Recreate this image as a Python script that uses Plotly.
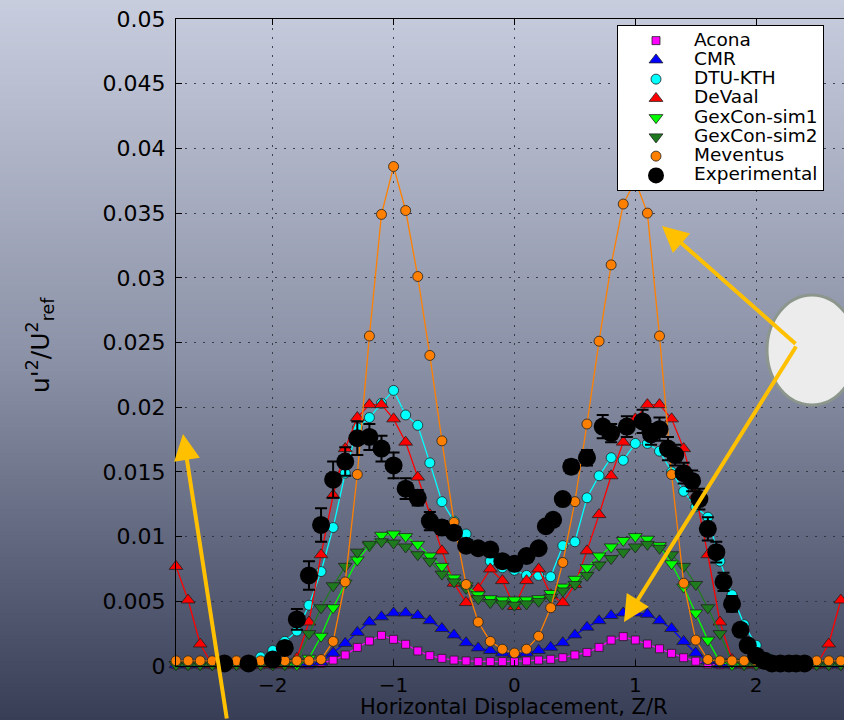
import base64, struct, zlib
import plotly.graph_objects as go

# ---------------- data ----------------
Z = [-2.8, -2.7, -2.6, -2.5, -2.4, -2.3, -2.2, -2.1, -2.0, -1.9, -1.8, -1.7, -1.6, -1.5,
     -1.4, -1.3, -1.2, -1.1, -1.0, -0.9, -0.8, -0.7, -0.6, -0.5, -0.4, -0.3, -0.2, -0.1,
     0.0, 0.1, 0.2, 0.3, 0.4, 0.5, 0.6, 0.7, 0.8, 0.9, 1.0, 1.1, 1.2, 1.3, 1.4, 1.5,
     1.6, 1.7, 1.8, 1.9, 2.0, 2.1, 2.2, 2.3, 2.4, 2.5, 2.6, 2.7]

acona = [0.0001]*12 + [0.0002, 0.00046, 0.00085, 0.00144, 0.00193, 0.00237, 0.00206, 0.00168,
         0.00116, 0.0008, 0.00059, 0.00046, 0.00039, 0.00034, 0.00034, 0.00034, 0.00034,
         0.00039, 0.00046, 0.00052, 0.00064, 0.00085, 0.00105, 0.00144, 0.002, 0.00227,
         0.00201, 0.0017, 0.00133, 0.00098, 0.00064, 0.00037, 0.00016] + [0.0001]*11

cmr = [0.0001]*12 + [0.0003, 0.001, 0.00175, 0.0026, 0.0034, 0.0038, 0.0041, 0.0041, 0.0039,
       0.0035, 0.0029, 0.0024, 0.0018, 0.0014, 0.0012, 0.001, 0.0009, 0.001, 0.0012, 0.00145,
       0.0018, 0.0024, 0.003, 0.0035, 0.0039, 0.0041, 0.0041, 0.004, 0.0035, 0.0029, 0.0019,
       0.001, 0.0004] + [0.0001]*11

dtu = [0.0002]*7 + [0.0007, 0.0012, 0.0019, 0.0027, 0.0047, 0.0073, 0.0107, 0.0149, 0.0184,
      0.0192, 0.0203, 0.0213, 0.0194, 0.0186, 0.0157, 0.0127, 0.0112, 0.0102, 0.0092, 0.0081,
      0.0076, 0.0074, 0.0070, 0.0070, 0.0069, 0.0093, 0.0096, 0.0130, 0.0147, 0.0161, 0.0159,
      0.0172, 0.0172, 0.0166, 0.0150, 0.0135, 0.0123, 0.0115, 0.0081, 0.0055, 0.0032, 0.0016,
      0.0006] + [0.0002]*6

devaal = [0.0077, 0.0051, 0.0017] + [0.0001]*7 + [0.0006, 0.0034, 0.0086, 0.0132, 0.0168, 0.0192,
          0.0202, 0.0202, 0.0191, 0.0173, 0.0146, 0.0117, 0.0089, 0.0064, 0.0049, 0.0060,
          0.0075, 0.0066, 0.0046, 0.0066, 0.0075, 0.0055, 0.0049, 0.0063, 0.0089, 0.0117,
          0.0147, 0.0173, 0.0191, 0.0202, 0.0202, 0.0191, 0.0168, 0.0132, 0.0086, 0.0034,
          0.0005] + [0.0001]*7 + [0.0017, 0.0051]

gex1 = [0.0001]*11 + [0.0006, 0.0023, 0.0045, 0.0064, 0.0082, 0.0093, 0.0101, 0.0102, 0.0100,
        0.0094, 0.0085, 0.0077, 0.0068, 0.0062, 0.0055, 0.0052, 0.0051, 0.0051, 0.0051, 0.0052,
        0.0056, 0.0061, 0.0067, 0.0076, 0.0085, 0.0092, 0.0097, 0.0100, 0.0098, 0.0093, 0.0079,
        0.0061, 0.0041, 0.0020, 0.0003] + [0.0001]*10

gex2 = [0.0001]*10 + [0.0003, 0.0025, 0.0045, 0.0062, 0.0077, 0.0088, 0.0094, 0.0096, 0.0095,
        0.0092, 0.0086, 0.0081, 0.0071, 0.0065, 0.0060, 0.0052, 0.0049, 0.0048, 0.0047, 0.0048,
        0.0050, 0.0053, 0.0058, 0.0063, 0.0070, 0.0078, 0.0083, 0.0088, 0.0092, 0.0094, 0.0091,
        0.0086, 0.0077, 0.0063, 0.0045, 0.0025, 0.0003] + [0.0001]*9

meventus = [0.0004]*12 + [0.0005, 0.0019, 0.0065, 0.0148, 0.0255, 0.0349, 0.0386, 0.0352,
            0.0301, 0.0240, 0.0174, 0.0111, 0.0063, 0.0034, 0.0019, 0.0013, 0.0010, 0.0013,
            0.0023, 0.0045, 0.0080, 0.0127, 0.0187, 0.0251, 0.0310, 0.0357, 0.0375, 0.0350,
            0.0255, 0.0148, 0.0064, 0.0020, 0.0005] + [0.0004]*11

exp_z = [-2.4, -2.2, -2.0, -1.9, -1.8, -1.7, -1.6, -1.5, -1.4, -1.3, -1.2, -1.1, -1.0, -0.9,
         -0.8, -0.7, -0.6, -0.5, -0.4, -0.3, -0.2, -0.1, 0.0, 0.1, 0.2, 0.26, 0.32, 0.4, 0.47,
         0.6, 0.73, 0.8, 0.93, 1.06, 1.13, 1.2, 1.27, 1.33, 1.4, 1.47, 1.53, 1.6, 1.67, 1.73,
         1.8, 1.87, 1.93, 2.0, 2.07, 2.13, 2.2, 2.27, 2.33, 2.4]
exp_val = [0.0002, 0.0002, 0.0005, 0.0014, 0.0036, 0.0070, 0.0109, 0.0144, 0.0158, 0.0176,
           0.0177, 0.0168, 0.0155, 0.0137, 0.0130, 0.0112, 0.0107, 0.0103, 0.0093, 0.0091,
           0.0090, 0.0081, 0.0079, 0.0085, 0.0091, 0.0108, 0.0113, 0.0129, 0.0154, 0.0161,
           0.0185, 0.0180, 0.0185, 0.0189, 0.0179, 0.0183, 0.0168, 0.0163, 0.0149, 0.0143,
           0.0129, 0.0106, 0.0088, 0.0065, 0.0048, 0.0028, 0.0016, 0.0008, 0.0004, 0.0002,
           0.0002, 0.0002, 0.0002, 0.0002]
exp_err = [0.0, 0.0, 0.0001, 0.0003, 0.0008, 0.0011, 0.0013, 0.0014, 0.0011, 0.0013, 0.0010,
           0.0010, 0.0010, 0.0008, 0.0006, 0.0007, 0.0005, 0.0004, 0.0004, 0.0003, 0.0003,
           0.0003, 0.0003, 0.0003, 0.0003, 0.0003, 0.0003, 0.0004, 0.0005, 0.0006, 0.0009,
           0.0007, 0.0008, 0.0009, 0.0008, 0.0009, 0.0009, 0.0008, 0.0008, 0.0008, 0.0008,
           0.0009, 0.0008, 0.0007, 0.0006, 0.0004, 0.0003, 0.0002, 0.0001, 0.0, 0.0, 0.0,
           0.0, 0.0]

y_ticks = [0, 0.005, 0.01, 0.015, 0.02, 0.025, 0.03, 0.035, 0.04, 0.045, 0.05]
y_ticktext = ["0", "0.005", "0.01", "0.015", "0.02", "0.025", "0.03", "0.035", "0.04", "0.045", "0.05"]
x_ticks = [-2, -1, 0, 1, 2]
x_ticktext = ["\u22122", "\u22121", "0", "1", "2"]

# ---------------- background gradient (style) ----------------
def gradient_png(h, stops, w=2):
    def col(t):
        for (t0, c0), (t1, c1) in zip(stops[:-1], stops[1:]):
            if t0 <= t <= t1:
                f = (t - t0) / (t1 - t0)
                return bytes(int(round(a + (b - a) * f)) for a, b in zip(c0, c1))
        return bytes(stops[-1][1])
    raw = b"".join(b"\x00" + col(i / (h - 1)) * w for i in range(h))
    def chunk(tag, data):
        c = struct.pack(">I", len(data)) + tag + data
        return c + struct.pack(">I", zlib.crc32(tag + data) & 0xffffffff)
    png = b"\x89PNG\r\n\x1a\n" + chunk(b"IHDR", struct.pack(">IIBBBBB", w, h, 8, 2, 0, 0, 0)) \
        + chunk(b"IDAT", zlib.compress(raw, 9)) + chunk(b"IEND", b"")
    return "data:image/png;base64," + base64.b64encode(png).decode()

bg = gradient_png(720, [(0.0, (200, 205, 222)), (0.5, (139, 145, 166)), (1.0, (56, 62, 86))])

W, H = 844, 720
L, R, T, B = 176, 0, 19, 54
PW, PH = W - L - R, H - T - B

def px(xp):
    return (xp - L) / PW

def py(yp):
    return (H - B - yp) / PH

FONT = "DejaVu Sans"
LEG_TXT = '<span style="font-size:18.5px">%s</span>'

fig = go.Figure()

series = [
    ("Acona", acona, "square", "#ff00ff", 8),
    ("CMR", cmr, "triangle-up", "#0000ff", 12),
    ("DTU-KTH", dtu, "circle", "#00ffff", 10),
    ("DeVaal", devaal, "triangle-up", "#ff0000", 12),
    ("GexCon-sim1", gex1, "triangle-down", "#00ff00", 12),
    ("GexCon-sim2", gex2, "triangle-down", "#1f7a1f", 12),
    ("Meventus", meventus, "circle", "#ff8000", 10),
]

for name, vals, sym, colr, size in series:
    fig.add_trace(go.Scatter(
        x=Z, y=vals, mode="lines+markers", name=name, showlegend=False,
        line=dict(color=colr, width=1.3),
        marker=dict(symbol=sym, size=size, color=colr, line=dict(color="#202020", width=0.8)),
        cliponaxis=False))

fig.add_trace(go.Scatter(
    x=exp_z, y=exp_val, mode="markers", name="Experimental", showlegend=False,
    marker=dict(symbol="circle", size=18, color="black"),
    error_y=dict(type="data", array=exp_err, color="black", thickness=2, width=6),
    cliponaxis=False))

# legend entries (markers only, as in the reference)
for name, vals, sym, colr, size in series:
    fig.add_trace(go.Scatter(x=[None], y=[None], mode="markers", name=LEG_TXT % name,
                             marker=dict(symbol=sym, size=size, color=colr,
                                         line=dict(color="#202020", width=0.8))))
fig.add_trace(go.Scatter(x=[None], y=[None], mode="markers", name=LEG_TXT % "Experimental",
                         marker=dict(symbol="circle", size=16, color="black")))

axis_common = dict(showline=True, linecolor="black", linewidth=1, ticks="inside", ticklen=6,
                   tickcolor="black", showgrid=True, gridcolor="rgba(45,45,55,0.85)",
                   gridwidth=1, griddash="2px,7px", zeroline=False)

fig.update_layout(
    width=W, height=H,
    margin=dict(l=L, r=R, t=T, b=B, pad=0),
    paper_bgcolor="rgb(139,145,166)",
    plot_bgcolor="rgba(0,0,0,0)",
    font=dict(family=FONT, color="black"),
    xaxis=dict(range=[-2.8, 2.7264], tickvals=x_ticks, ticktext=x_ticktext, mirror="ticks",
               ticklabelstandoff=1, tickfont=dict(family=FONT, size=20, color="black"),
               **axis_common),
    yaxis=dict(range=[0, 0.05], tickvals=y_ticks, ticktext=y_ticktext,
               ticklabelstandoff=5, tickfont=dict(family=FONT, size=22, color="black"),
               **axis_common),
    legend=dict(x=px(617), y=py(25), xanchor="left", yanchor="top", bgcolor="white",
                bordercolor="black", borderwidth=1, font=dict(family=FONT, size=12.5, color="black"),
                itemwidth=66, tracegroupgap=0),
    images=[dict(source=bg, xref="paper", yref="paper", x=-L / PW, y=1 + T / PH,
                 sizex=W / PW, sizey=H / PH, sizing="stretch", layer="below",
                 xanchor="left", yanchor="top")],
    shapes=[dict(type="circle", xref="paper", yref="paper", x0=px(767), x1=px(857),
                 y0=py(405), y1=py(295), fillcolor="rgb(236,236,236)",
                 line=dict(color="rgb(140,150,140)", width=3), layer="above")],
    annotations=[
        dict(text="Horizontal Displacement, Z/R", xref="paper", yref="paper", x=px(514),
             y=py(706.5), showarrow=False, font=dict(family=FONT, size=21, color="black"),
             xanchor="center", yanchor="middle"),
        dict(text="u'<sup>2</sup>/U<sup>2</sup><sub>ref</sub>", xref="paper", yref="paper",
             x=px(40), y=py(345), showarrow=False, textangle=-90,
             font=dict(family=FONT, size=25, color="black"), xanchor="center", yanchor="middle"),
        dict(text="", xref="paper", yref="paper", x=px(183), y=py(434), ax=44, ay=286,
             showarrow=True, arrowhead=2, arrowsize=1.3, arrowwidth=4, arrowcolor="#FFC000"),
        dict(text="", xref="paper", yref="paper", x=px(662), y=py(226), ax=135, ay=119,
             showarrow=True, arrowhead=2, arrowsize=1.3, arrowwidth=4, arrowcolor="#FFC000"),
        dict(text="", xref="paper", yref="paper", x=px(624), y=py(622), ax=173, ay=-277,
             showarrow=True, arrowhead=2, arrowsize=1.3, arrowwidth=4, arrowcolor="#FFC000"),
    ],
)

fig.write_html("out.html", config={"displayModeBar": False},
               post_script="document.body.style.margin='0';document.body.style.padding='0';")
